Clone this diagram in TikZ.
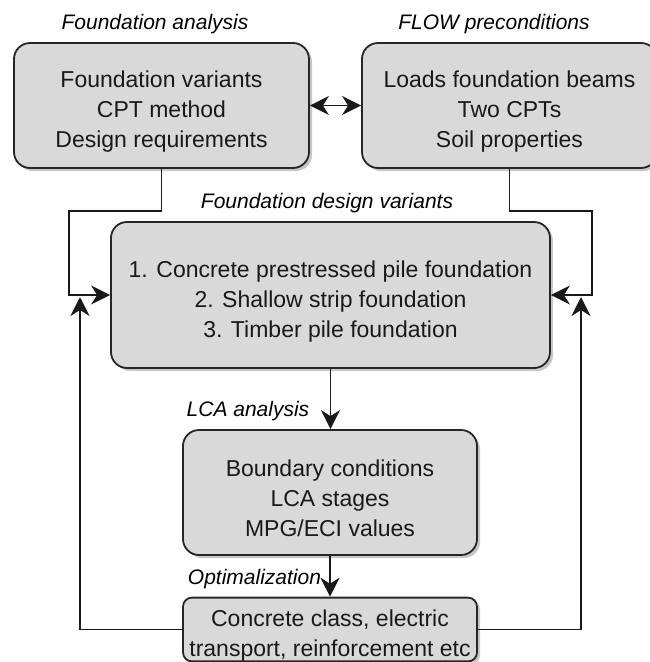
\documentclass[tikz,border=0pt]{standalone}
\usepackage{fontspec}
\setmainfont{Liberation Sans}
\usetikzlibrary{arrows.meta,shadows}
% taller first line, so that the block of text sits a little lower in its box
\newcommand\firstlinestrut{\rule{0pt}{29pt}}
\begin{document}
\begin{tikzpicture}[x=1pt,y=-1pt,
  box/.style={draw=black!85, line width=1.8pt, fill=black!15,
    rounded corners=16pt, align=center, inner sep=0pt,
    font=\fontsize{23}{30}\selectfont, text=black!90,
    drop shadow={shadow xshift=3pt, shadow yshift=-3pt, fill=black, opacity=0.22}},
  lbl/.style={font=\fontsize{21}{25}\selectfont\itshape, anchor=base, inner sep=0pt, text=black},
  conn/.style={line width=1.7pt, draw=black!90},
  headtip/.tip={Stealth[length=19pt,width=19pt,inset=6pt]},
  tip/.style={-headtip},
  bitip/.style={headtip-headtip}
]
\useasboundingbox (0,0) rectangle (649,662);

% process boxes
\node[box, minimum width=295pt, minimum height=125pt] (fa) at (161.5,105.5)
  {\firstlinestrut Foundation variants\\CPT method\\Design requirements};
\node[box, minimum width=295pt, minimum height=125pt] (fp) at (509.5,105.5)
  {\firstlinestrut Loads foundation beams\\Two CPTs\\Soil properties};
\node[box, minimum width=439pt, minimum height=146pt] (dv) at (330.5,295)
  {\firstlinestrut 1. Concrete prestressed pile foundation\\2. Shallow strip foundation\\3. Timber pile foundation};
\node[box, minimum width=294pt, minimum height=125pt] (lca) at (330,492.5)
  {\firstlinestrut Boundary conditions\\LCA stages\\MPG/ECI values};
\node[box, rounded corners=9pt, minimum width=294pt, minimum height=61pt] (opt) at (330,629.5)
  {\firstlinestrut Concrete class, electric\\transport, reinforcement etc};

% section titles
\node[lbl] (t1) at (155,29) {Foundation analysis};
\node[lbl] (t2) at (494,29) {FLOW preconditions};
\node[lbl] (t3) at (327,208) {Foundation design variants};
\node[lbl] (t4) at (248,416) {LCA analysis};
\node[lbl] (t5) at (254.5,584) {Optimalization};

% bend points
\coordinate (lj) at (69,211);
\coordinate (lk) at (69,295);
\coordinate (rj) at (592,211);
\coordinate (rk) at (592,295);
\coordinate (fl) at (80,297);
\coordinate (fr) at (581,297);

% connectors
\draw[conn, bitip] (fa.east) -- (fp.west);
\draw[conn, tip] (fa.south) |- (lj) -- (lk) -- (dv.west);
\draw[conn, tip] (fp.south) |- (rj) -- (rk) -- (dv.east);
\draw[conn, tip] (dv.south) -- (dv.south |- lca.north);
\draw[conn, tip] (lca.south) -- (opt.north);
\draw[conn, tip] (opt.west) -| (fl);
\draw[conn, tip] (opt.east) -| (fr);
\end{tikzpicture}
\end{document}
